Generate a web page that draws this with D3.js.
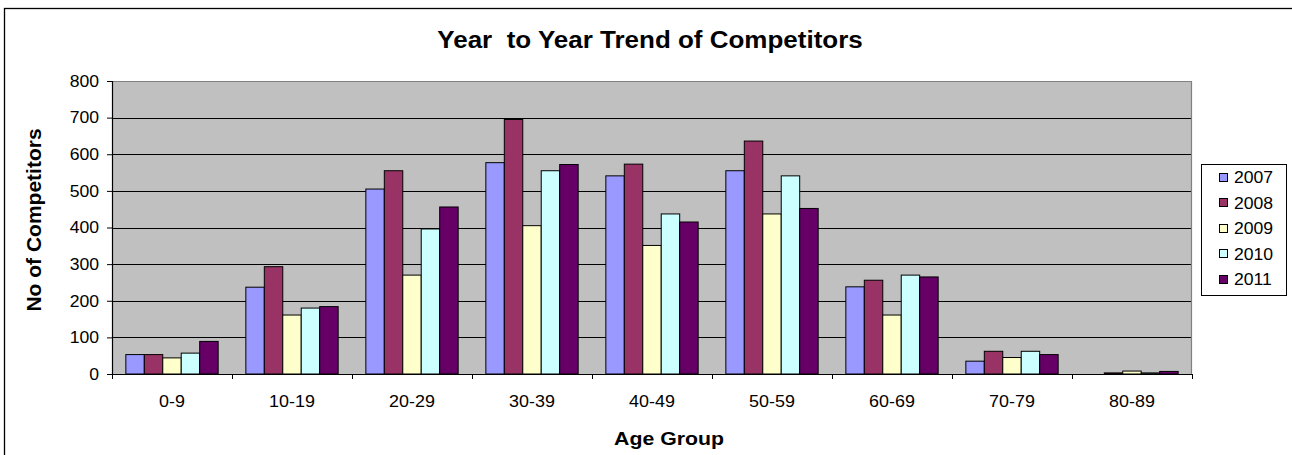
<!DOCTYPE html>
<html>
<head>
<meta charset="utf-8">
<script src="https://cdn.jsdelivr.net/npm/d3@7"></script>
<style>
  html, body { margin: 0; padding: 0; background: #fff; }
  svg { display: block; }
  text { font-family: "Liberation Sans", Arial, sans-serif; fill: #000; }
</style>
</head>
<body>
<svg id="chart" width="1292" height="455"></svg>
<script>
const categories = ["0-9", "10-19", "20-29", "30-39", "40-49", "50-59", "60-69", "70-79", "80-89"];
const years = ["2007", "2008", "2009", "2010", "2011"];
const values2007 = [53, 237, 505, 577, 541, 555, 238, 35, 0];
const values2008 = [53, 293, 555, 695, 573, 636, 256, 62, 3];
const values2009 = [44, 161, 270, 405, 351, 437, 161, 45, 8];
const values2010 = [57, 180, 396, 555, 437, 541, 270, 62, 3];
const values2011 = [89, 184, 456, 572, 415, 452, 265, 53, 7];
const yTicks = [0, 100, 200, 300, 400, 500, 600, 700, 800];
const colors = ["#9999ff", "#993366", "#ffffcc", "#ccffff", "#660066"];

const series = [values2007, values2008, values2009, values2010, values2011];
const svg = d3.select("#chart");

const plot = { left: 112, right: 1192, top: 81, bottom: 374 };

// outer chart border (extends past right/bottom edges)
svg.append("rect")
  .attr("x", 4.5).attr("y", 8.5)
  .attr("width", 1400).attr("height", 600)
  .attr("fill", "#fff").attr("stroke", "#000").attr("stroke-width", 1.3);

const x0 = d3.scaleBand().domain(categories).range([plot.left, plot.right]).paddingInner(0).paddingOuter(0);
const x1 = d3.scaleBand().domain(years).range([0, x0.bandwidth()]).paddingInner(0).paddingOuter(0.75);
const y = d3.scaleLinear().domain([0, 800]).range([plot.bottom, plot.top]);

// plot area background
svg.append("rect")
  .attr("x", plot.left).attr("y", plot.top)
  .attr("width", plot.right - plot.left).attr("height", plot.bottom - plot.top)
  .attr("fill", "#c0c0c0");

// gridlines
svg.append("g").selectAll("line")
  .data(yTicks.filter(t => t > 0 && t < 800))
  .join("line")
  .attr("x1", plot.left).attr("x2", plot.right)
  .attr("y1", d => Math.round(y(d)) + 0.5).attr("y2", d => Math.round(y(d)) + 0.5)
  .attr("stroke", "#000").attr("stroke-width", 1);

// plot border top/right gray
svg.append("path")
  .attr("d", `M${plot.left},${plot.top + 0.5}H${plot.right - 0.5}V${plot.bottom}`)
  .attr("fill", "none").attr("stroke", "#808080").attr("stroke-width", 1.2);

// bars
const groups = svg.append("g").selectAll("g")
  .data(categories)
  .join("g")
  .attr("transform", d => `translate(${x0(d)},0)`);

groups.selectAll("rect")
  .data((c, i) => years.map((yr, j) => ({ yr, j, v: series[j][i] })))
  .join("rect")
  .filter(d => d.v > 0)
  .attr("x", d => x1(d.yr))
  .attr("y", d => y(d.v))
  .attr("width", x1.bandwidth())
  .attr("height", d => y(0) - y(d.v))
  .attr("fill", d => colors[d.j])
  .attr("stroke", "#000").attr("stroke-width", 1);

// text helper with horizontal stretch
function stretchedText(g, x, yy, str, opts) {
  const sx = opts.sx || 1;
  return g.append("text")
    .attr("transform", `translate(${x},${yy}) scale(${sx},1)`)
    .attr("text-anchor", opts.anchor || "middle")
    .attr("font-size", opts.size)
    .attr("font-weight", opts.weight || "normal")
    .text(str);
}

// y axis
const yAxis = svg.append("g").attr("transform", `translate(${plot.left},0)`)
  .call(d3.axisLeft(y).tickValues(yTicks).tickSize(5).tickFormat(""));
yAxis.select(".domain").attr("stroke", "#000").attr("stroke-width", 1.2);
yAxis.selectAll(".tick line").attr("stroke", "#000");
yTicks.forEach(t => {
  stretchedText(svg, 99, y(t) + 5.8, String(t), { size: 16, sx: 1.1, anchor: "end" });
});

// x axis
const xAxis = svg.append("g").attr("transform", `translate(0,${plot.bottom})`)
  .call(d3.axisBottom(x0).tickSize(0).tickFormat(""));
xAxis.select(".domain").attr("stroke", "#000").attr("stroke-width", 1.2);
const boundaries = categories.map(c => x0(c)).concat([plot.right]);
svg.append("g").selectAll("line").data(boundaries).join("line")
  .attr("x1", d => Math.round(d) + 0.5).attr("x2", d => Math.round(d) + 0.5)
  .attr("y1", plot.bottom).attr("y2", plot.bottom + 5)
  .attr("stroke", "#000");
categories.forEach(c => {
  stretchedText(svg, x0(c) + x0.bandwidth() / 2, 407, c, { size: 16, sx: 1.12 });
});

// title
stretchedText(svg, 650, 48, "Year  to Year Trend of Competitors", { size: 23, sx: 1.13, weight: "bold" })
  .attr("xml:space", "preserve").style("white-space", "pre");

// axis titles
stretchedText(svg, 669, 445, "Age Group", { size: 18.5, sx: 1.15, weight: "bold" });
svg.append("text")
  .attr("transform", `translate(41,220) rotate(-90)`)
  .attr("text-anchor", "middle")
  .attr("font-size", 21)
  .attr("font-weight", "bold")
  .text("No of Competitors");

// legend
const legend = svg.append("g");
legend.append("rect")
  .attr("x", 1201.5).attr("y", 164.5).attr("width", 85).attr("height", 131)
  .attr("fill", "#fff").attr("stroke", "#000").attr("stroke-width", 1);
const legendY = d3.scalePoint().domain(years).range([177, 279]);
years.forEach((yr, j) => {
  const cy = legendY(yr);
  legend.append("rect")
    .attr("x", 1219.5).attr("y", Math.round(cy - 4.5) + 0.5).attr("width", 8).attr("height", 8)
    .attr("fill", colors[j]).attr("stroke", "#000").attr("stroke-width", 1);
  stretchedText(legend, 1234, cy + 6, yr, { size: 16, sx: 1.1, anchor: "start" });
});
</script>
</body>
</html>
